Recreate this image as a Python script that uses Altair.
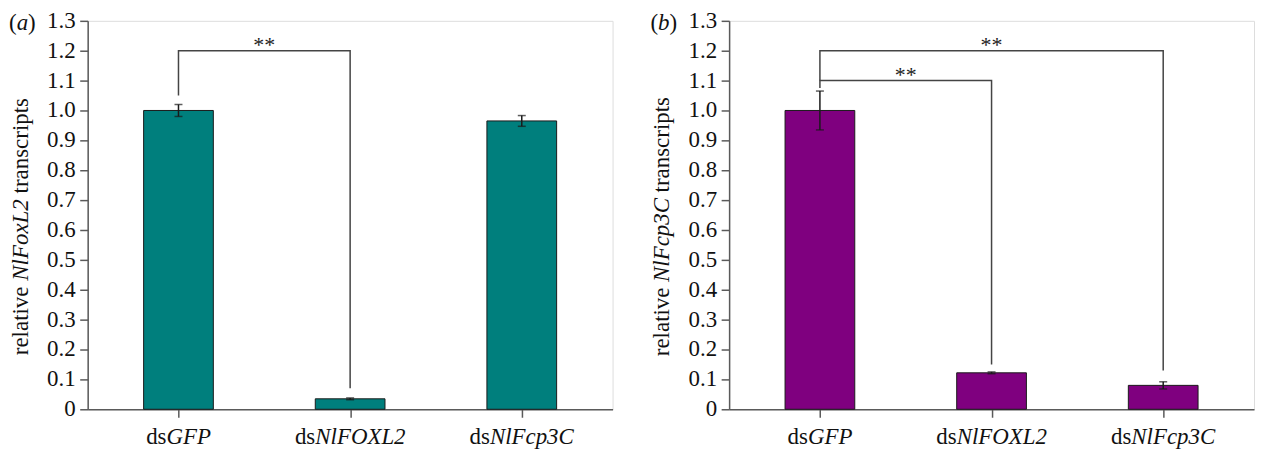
import altair as alt
import pandas as pd

# ---------------- data ----------------
categories = ["dsGFP", "dsNlFOXL2", "dsNlFcp3C"]
prefixes = ["ds", "ds", "ds"]
genes = ["GFP", "NlFOXL2", "NlFcp3C"]

a_values = [1.0, 0.035, 0.965]
a_errors = [0.02, 0.003, 0.018]

b_values = [1.0, 0.122, 0.08]
b_errors = [0.065, 0.003, 0.012]

y_ticks = [0, 0.1, 0.2, 0.3, 0.4, 0.5, 0.6, 0.7, 0.8, 0.9, 1.0, 1.1, 1.2, 1.3]
y_tick_labels = ["0", "0.1", "0.2", "0.3", "0.4", "0.5", "0.6", "0.7", "0.8", "0.9",
                 "1.0", "1.1", "1.2", "1.3"]

# significance brackets: from index, to index, bar height, start of left leg, end of right leg
a_br_from = [0]
a_br_to = [1]
a_br_top = [1.2]
a_br_left = [1.05]
a_br_right = [0.07]

b_br_from = [0, 0]
b_br_to = [1, 2]
b_br_top = [1.1, 1.2]
b_br_left = [1.075, 1.1]
b_br_right = [0.15, 0.13]
sig_label = "**"

a_letter = "a"
b_letter = "b"
a_gene_title = "NlFoxL2"
b_gene_title = "NlFcp3C"
title_before = "relative"
title_after = "transcripts"

# ---------------- style ----------------
FONT = "Liberation Serif"
FS = 23
W = 527
H = 390
AXIS_COLOR = "#5a5a5a"
LINE_COLOR = "#444444"
TEAL = "#007f7d"
PURPLE = "#7f007f"

# split-point offsets so that "ds"+italic gene label is centred on the tick
label_dx = [-12, -35, -32]
gene_title_width = {"NlFoxL2": 82, "NlFcp3C": 84}

xscale = alt.Scale(domain=[-0.5, 2.5], nice=False, zero=False)
yscale = alt.Scale(domain=[0, 1.3], nice=False, zero=True)

x_axis = alt.Axis(values=[0, 1, 2], labels=False, ticks=True, tickSize=8, tickWidth=1.5,
                  tickColor=AXIS_COLOR, domainColor=AXIS_COLOR, domainWidth=1.5,
                  grid=False, title=None)
y_axis = alt.Axis(values=y_ticks, tickCount=14, labels=False,
                  tickSize=8, tickWidth=1.5, tickColor=AXIS_COLOR,
                  domainColor=AXIS_COLOR, domainWidth=1.5,
                  grid=False, title=None)


def X(field):
    return alt.X(field, scale=xscale, axis=x_axis, title=None)


def Y(field):
    return alt.Y(field, scale=yscale, axis=y_axis, title=None)


def panel(values, errors, br_from, br_to, br_top, br_left, br_right, color, letter, gene_title):
    idx = list(range(len(categories)))
    df = pd.DataFrame({
        "idx": idx,
        "cat": categories,
        "prefix": prefixes,
        "gene": genes,
        "value": values,
        "lo": [v - e for v, e in zip(values, errors)],
        "hi": [v + e for v, e in zip(values, errors)],
    })

    base = alt.Chart(df)
    bars = base.mark_bar(size=70, color=color, stroke="#1a1a1a", strokeWidth=1).encode(
        x=X("idx:Q"), y=Y("value:Q"))
    err = base.mark_rule(color="#1a1a1a", strokeWidth=1.5).encode(
        x=X("idx:Q"), y=Y("lo:Q"), y2="hi:Q")
    cap_hi = base.mark_tick(orient="horizontal", size=8, thickness=1.5, color="#1a1a1a").encode(
        x=X("idx:Q"), y=Y("hi:Q"))
    cap_lo = base.mark_tick(orient="horizontal", size=8, thickness=1.5, color="#1a1a1a").encode(
        x=X("idx:Q"), y=Y("lo:Q"))

    # y tick labels in the serif font, placed by the y scale
    tdf = pd.DataFrame({"tv": y_ticks, "tl": y_tick_labels})
    ticklabels = alt.Chart(tdf).mark_text(font=FONT, fontSize=FS, align="right", baseline="middle",
                                          color="#111").encode(
        x=alt.value(-12), y=Y("tv:Q"), text="tl:N")

    # brackets built from bracket arrays
    rows = []
    stars = []
    for k, (f, t, top, l, r) in enumerate(zip(br_from, br_to, br_top, br_left, br_right)):
        pts = [(f, l), (f, top), (t, top), (t, r)]
        for o, (px, py) in enumerate(pts):
            rows.append({"bid": k, "ord": o, "bx": px, "by": py})
        stars.append({"sx": (f + t) / 2, "sy": top, "txt": sig_label})
    brdf = pd.DataFrame(rows)
    stdf = pd.DataFrame(stars)
    brackets = alt.Chart(brdf).mark_line(color=LINE_COLOR, strokeWidth=1.5).encode(
        x=X("bx:Q"), y=Y("by:Q"), detail="bid:N", order="ord:Q")
    star_text = alt.Chart(stdf).mark_text(font=FONT, fontSize=22, baseline="alphabetic",
                                          dy=1, color="#222").encode(
        x=X("sx:Q"), y=Y("sy:Q"), text="txt:N")

    # x labels: upright "ds" + italic gene name
    label_layers = []
    for i, cat in enumerate(categories):
        sub = base.transform_filter(alt.datum.cat == cat)
        label_layers.append(sub.mark_text(font=FONT, fontSize=FS, align="right", baseline="alphabetic",
                                          dx=label_dx[i], color="#111").encode(
            x=X("idx:Q"), y=alt.value(H + 35), text="prefix:N"))
        label_layers.append(sub.mark_text(font=FONT, fontSize=FS, fontStyle="italic", align="left",
                                          baseline="alphabetic", dx=label_dx[i], color="#111").encode(
            x=X("idx:Q"), y=alt.value(H + 35), text="gene:N"))

    # y title: "relative " + italic gene + " transcripts"
    one = pd.DataFrame({"t1": [title_before], "t2": [gene_title], "t3": [title_after],
                        "p1": ["("], "p2": [letter], "p3": [")"]})
    tb = alt.Chart(one)
    yc = 220
    w2 = gene_title_width[gene_title]
    gap = 5.75
    tx = -60
    yt1 = tb.mark_text(font=FONT, fontSize=FS, angle=270, align="right", baseline="alphabetic",
                       color="#111").encode(x=alt.value(tx), y=alt.value(yc + w2 / 2 + gap), text="t1:N")
    yt2 = tb.mark_text(font=FONT, fontSize=FS, angle=270, align="center", baseline="alphabetic",
                       fontStyle="italic", color="#111").encode(x=alt.value(tx), y=alt.value(yc), text="t2:N")
    yt3 = tb.mark_text(font=FONT, fontSize=FS, angle=270, align="left", baseline="alphabetic",
                       color="#111").encode(x=alt.value(tx), y=alt.value(yc - w2 / 2 - gap), text="t3:N")

    # panel letter "(a)" with italic letter
    lx = -79
    pl1 = tb.mark_text(font=FONT, fontSize=FS, align="left", baseline="alphabetic", color="#111").encode(
        x=alt.value(lx), y=alt.value(9), text="p1:N")
    pl2 = tb.mark_text(font=FONT, fontSize=FS, align="left", baseline="alphabetic", fontStyle="italic",
                       color="#111").encode(x=alt.value(lx + 7.7), y=alt.value(9), text="p2:N")
    pl3 = tb.mark_text(font=FONT, fontSize=FS, align="left", baseline="alphabetic", color="#111").encode(
        x=alt.value(lx + 7.7 + 11.5), y=alt.value(9), text="p3:N")

    return alt.layer(bars, err, cap_hi, cap_lo, ticklabels, brackets, star_text, *label_layers,
                     yt1, yt2, yt3, pl1, pl2, pl3).properties(width=W, height=H)


left = panel(a_values, a_errors, a_br_from, a_br_to, a_br_top, a_br_left, a_br_right,
             TEAL, a_letter, a_gene_title)
right = panel(b_values, b_errors, b_br_from, b_br_to, b_br_top, b_br_left, b_br_right,
              PURPLE, b_letter, b_gene_title)

chart = alt.hconcat(left, right, spacing=117, bounds="flush").properties(
    padding={"left": 0, "top": 0, "right": 0, "bottom": 0}
).configure_view(stroke=None).configure(background="white").configure_axis(
    tickSize=8, tickColor=AXIS_COLOR, tickWidth=1.5,
    domainColor=AXIS_COLOR, domainWidth=1.5, grid=False
)

chart.save("out.html", embed_options={"renderer": "svg", "actions": False})
